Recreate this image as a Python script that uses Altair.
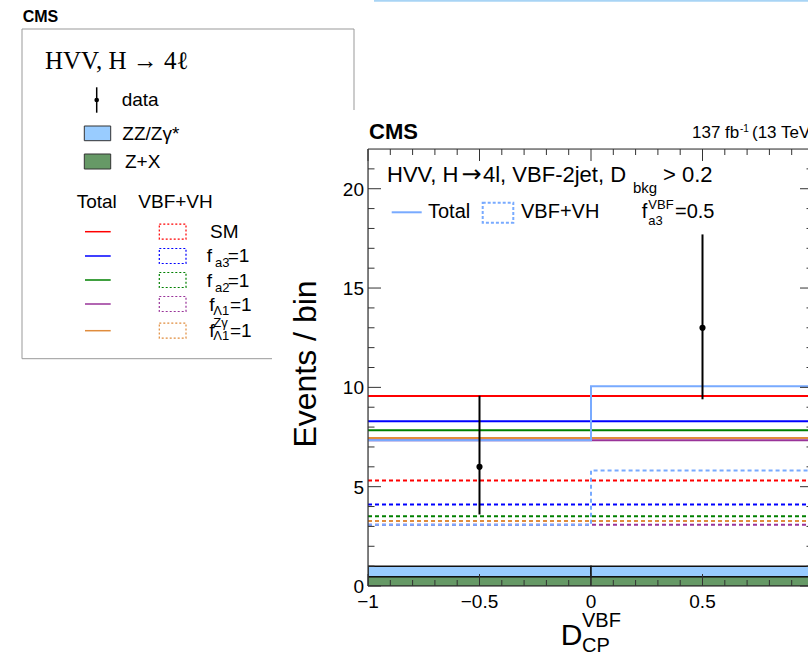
import altair as alt
import pandas as pd

# ---------------- data ----------------
bin_edges = [-1.0, 0.0, 1.0]
series = ["SM", "fa3", "fa2", "fL1", "fL1Zg", "fa3mix"]
total_left = [9.57, 8.30, 7.84, 7.34, 7.45, 7.34]
total_right = [9.57, 8.30, 7.84, 7.34, 7.45, 10.06]
vbf_left = [5.31, 4.10, 3.51, 3.08, 3.27, 3.08]
vbf_right = [5.31, 4.10, 3.51, 3.08, 3.27, 5.82]
zx_vals = [0.47, 0.47]
zz_vals = [0.53, 0.53]
data_x = [-0.5, 0.5]
data_n = [6, 13]
data_lo = [3.6, 9.4]
data_hi = [9.58, 17.7]
x_major = [-1.0, -0.5, 0.0, 0.5]
x_tick_labels = ["\u22121", "\u22120.5", "0", "0.5"]
x_minor = [-0.9, -0.8, -0.7, -0.6, -0.4, -0.3, -0.2, -0.1, 0.1, 0.2, 0.3, 0.4, 0.6, 0.7, 0.8, 0.9]
y_major = [0, 5, 10, 15, 20]
y_tick_labels = ["0", "5", "10", "15", "20"]
y_minor = [1, 2, 3, 4, 6, 7, 8, 9, 11, 12, 13, 14, 16, 17, 18, 19, 21]

# ---------------- style ----------------
colors = {"SM": "#ff0000", "fa3": "#0000ff", "fa2": "#008000", "fL1": "#993399",
          "fL1Zg": "#e08c3c", "fa3mix": "#78aaff"}
FONT = "Liberation Sans"
FR = "#333333"
W, H = 440, 437
PL, PT = 368, 149
xs = alt.Scale(domain=[-1, -1 + W / 223.0], nice=False, zero=False)
ys = alt.Scale(domain=[0, 22], nice=False, zero=False)

one = pd.DataFrame({"k": [0]})
layers = []


def txt(s, x, y, size, font=FONT, weight="normal", align="left", baseline="alphabetic", angle=None):
    kw = dict(text=s, fontSize=size, font=font, fontWeight=weight, align=align,
              baseline=baseline, color="black")
    if angle is not None:
        kw["angle"] = angle
    return alt.Chart(one).mark_text(**kw).encode(x=alt.value(x), y=alt.value(y))


def prule(x1, y1, x2, y2, color, width=1.0, dash=None):
    kw = dict(color=color, strokeWidth=width)
    if dash:
        kw["strokeDash"] = dash
    return alt.Chart(one).mark_rule(**kw).encode(
        x=alt.value(x1), y=alt.value(y1), x2=alt.value(x2), y2=alt.value(y2))


def prect(x1, y1, x2, y2, stroke, fill=None, width=1.0, dash=None):
    kw = dict(stroke=stroke, strokeWidth=width)
    if fill:
        kw["fill"] = fill
    else:
        kw["fillOpacity"] = 0
        kw["fill"] = "white"
    if dash:
        kw["strokeDash"] = dash
    return alt.Chart(one).mark_rect(**kw).encode(
        x=alt.value(x1), y=alt.value(y1), x2=alt.value(x2), y2=alt.value(y2))


# ---------------- backgrounds ----------------
bkg = pd.DataFrame({
    "x1": bin_edges[:-1], "x2": bin_edges[1:],
    "zx": zx_vals, "zz": zz_vals,
})
bkg["top"] = bkg["zx"] + bkg["zz"]
bkg["zero"] = 0.0
layers.append(alt.Chart(bkg).mark_rect(fill="#669966", stroke="#222222", strokeWidth=1, clip=True).encode(
    x=alt.X("x1:Q", scale=xs, axis=None), x2="x2:Q",
    y=alt.Y("zero:Q", scale=ys, axis=None), y2="zx:Q"))
layers.append(alt.Chart(bkg).mark_rect(fill="#99ccff", stroke="#111111", strokeWidth=1.5, clip=True).encode(
    x=alt.X("x1:Q", scale=xs, axis=None), x2="x2:Q",
    y=alt.Y("zx:Q", scale=ys, axis=None), y2="top:Q"))


# ---------------- histograms ----------------
def step_df(left, right):
    return pd.DataFrame({"x": bin_edges, "y": [left, right, right]})


for i, s in enumerate(series):
    layers.append(alt.Chart(step_df(vbf_left[i], vbf_right[i])).mark_line(
        interpolate="step-after", color=colors[s], strokeWidth=2, strokeDash=[4, 3], clip=True).encode(
        x=alt.X("x:Q", scale=xs, axis=None), y=alt.Y("y:Q", scale=ys, axis=None)))
for i, s in enumerate(series):
    layers.append(alt.Chart(step_df(total_left[i], total_right[i])).mark_line(
        interpolate="step-after", color=colors[s], strokeWidth=2, clip=True).encode(
        x=alt.X("x:Q", scale=xs, axis=None), y=alt.Y("y:Q", scale=ys, axis=None)))

# ---------------- data points ----------------
pts = pd.DataFrame({"x": data_x, "n": data_n, "lo": data_lo, "hi": data_hi})
layers.append(alt.Chart(pts).mark_rule(color="black", strokeWidth=2).encode(
    x=alt.X("x:Q", scale=xs, axis=None), y=alt.Y("lo:Q", scale=ys, axis=None), y2="hi:Q"))
layers.append(alt.Chart(pts).mark_point(filled=True, color="black", size=38, opacity=1).encode(
    x=alt.X("x:Q", scale=xs, axis=None), y=alt.Y("n:Q", scale=ys, axis=None)))

# ---------------- inward ticks & frame ----------------
for vals, ln in ((x_major, 12), (x_minor, 6)):
    d = pd.DataFrame({"v": vals})
    layers.append(alt.Chart(d).mark_rule(color=FR, strokeWidth=1).encode(
        x=alt.X("v:Q", scale=xs, axis=None), y=alt.value(H), y2=alt.value(H - ln)))
    layers.append(alt.Chart(d).mark_rule(color=FR, strokeWidth=1).encode(
        x=alt.X("v:Q", scale=xs, axis=None), y=alt.value(0), y2=alt.value(ln)))
for vals, ln in ((y_major, 13), (y_minor, 6.5)):
    d = pd.DataFrame({"v": vals})
    layers.append(alt.Chart(d).mark_rule(color=FR, strokeWidth=1).encode(
        y=alt.Y("v:Q", scale=ys, axis=None), x=alt.value(0), x2=alt.value(ln)))
    layers.append(alt.Chart(d).mark_rule(color=FR, strokeWidth=1).encode(
        y=alt.Y("v:Q", scale=ys, axis=None), x=alt.value(W + 5 - ln), x2=alt.value(W)))
layers.append(prule(0, 0, 0, H, FR, 1.2))
layers.append(prule(0, 0, W, 0, FR, 1.2))
layers.append(prule(0, H, W, H, FR, 1.2))

# tick labels
xl = pd.DataFrame({"v": x_major, "lab": x_tick_labels})
layers.append(alt.Chart(xl).mark_text(fontSize=19, font=FONT, baseline="alphabetic", align="center",
                                      color="black").encode(
    x=alt.X("v:Q", scale=xs, axis=None), y=alt.value(H + 22), text="lab:N"))
yl = pd.DataFrame({"v": y_major, "lab": y_tick_labels})
layers.append(alt.Chart(yl).mark_text(fontSize=19, font=FONT, baseline="alphabetic", align="right",
                                      color="black", dy=7).encode(
    y=alt.Y("v:Q", scale=ys, axis=None), x=alt.value(-4), text="lab:N"))

# ---------------- main plot texts ----------------
layers.append(txt("CMS", 1, -9.7, 22, weight="bold"))
layers.append(txt("137 fb", 324, -11, 17))
layers.append(txt("-1", 372, -17, 10))
layers.append(txt("(13 TeV)", 384, -11, 17))
layers.append(txt("HVV, H", 19, 32.7, 22))
layers.append(txt("\u2192", 93.5, 32.7, 24, font="DejaVu Sans"))
layers.append(txt("4l, VBF-2jet, D", 115, 32.7, 22))
layers.append(txt("bkg", 265, 44.3, 15))
layers.append(txt("> 0.2", 295, 32.7, 22))
layers.append(prule(23.7, 63.3, 53.7, 63.3, colors["fa3mix"], 2))
layers.append(txt("Total", 60, 69, 20))
layers.append(prect(114.7, 53.7, 145.3, 73.7, colors["fa3mix"], width=2, dash=[3, 2]))
layers.append(txt("VBF+VH", 153, 69, 20))
layers.append(txt("f", 273.7, 69, 20))
layers.append(txt("VBF", 280.3, 60, 13))
layers.append(txt("a3", 280.3, 76, 13))
layers.append(txt("=0.5", 307, 69, 20))

# axis titles
layers.append(txt("Events / bin", -52, 215, 32, align="center", angle=270))
layers.append(txt("D", 192.7, 496, 30))
layers.append(txt("VBF", 214, 477.7, 20))
layers.append(txt("CP", 214, 503, 20))

# ---------------- the separate legend box ----------------
BX = "#999999"
layers.append(prule(-346, -120, -14, -120, BX))
layers.append(prule(-346, -120, -346, 209.7, BX))
layers.append(prule(-14, -120, -14, -39, BX))
layers.append(prule(-346, 209.7, -96, 209.7, BX))
layers.append(txt("CMS", -345.3, -127.3, 16, weight="bold"))
layers.append(txt("HVV, H \u2192 4\u2113", -323, -79.7, 25, font="Liberation Serif"))
layers.append(prule(-271.3, -61.7, -271.3, -36.3, "black", 1.5))
layers.append(alt.Chart(one).mark_point(filled=True, color="black", size=22, opacity=1).encode(
    x=alt.value(-271.3), y=alt.value(-49)))
layers.append(txt("data", -246.3, -43, 19))
layers.append(prect(-283.7, -23, -257.3, -8.3, "#333333", fill="#99ccff"))
layers.append(txt("ZZ/Z\u03b3*", -245.7, -9, 19))
layers.append(prect(-283.7, 5, -257.3, 20, "#333333", fill="#669966"))
layers.append(txt("Z+X", -243, 19.3, 19))
layers.append(txt("Total", -291.3, 59.3, 19))
layers.append(txt("VBF+VH", -229.7, 59.3, 19))
row_y = [82.7, 107, 131, 155, 181.7]
for s, yy in zip(series[:5], row_y):
    layers.append(prule(-283, yy, -257.3, yy, colors[s], 1.5))
    layers.append(prect(-208.7, yy - 7.5, -182, yy + 7.5, colors[s], width=1.2, dash=[2, 2]))
layers.append(txt("SM", -158, 89.3, 19))
layers.append(txt("f", -161.3, 113.3, 19))
layers.append(txt("a3", -153, 118.3, 13))
layers.append(txt("=1", -140.3, 113.3, 19))
layers.append(txt("f", -161.3, 137.7, 19))
layers.append(txt("a2", -153, 142.7, 13))
layers.append(txt("=1", -140.3, 137.7, 19))
layers.append(txt("f", -158.7, 161.7, 19))
layers.append(txt("\u039b1", -154.7, 166, 13))
layers.append(txt("=1", -138, 161.7, 19))
layers.append(txt("f", -158.7, 187.7, 19))
layers.append(txt("Z\u03b3", -154.7, 178, 13))
layers.append(txt("\u039b1", -154.7, 191, 13))
layers.append(txt("=1", -138, 187.7, 19))

# top artifact line
layers.append(prule(6, -148.3, W, -148.3, "#a8d4f5", 2))

chart = alt.layer(*layers).properties(
    width=W, height=H,
    padding={"left": PL, "top": PT, "right": 0, "bottom": 653 - PT - H},
    autosize=alt.AutoSizeParams(type="none"),
).configure_view(stroke=None).configure(font=FONT)

chart.save("out.html", embed_options={"renderer": "svg", "actions": False})
